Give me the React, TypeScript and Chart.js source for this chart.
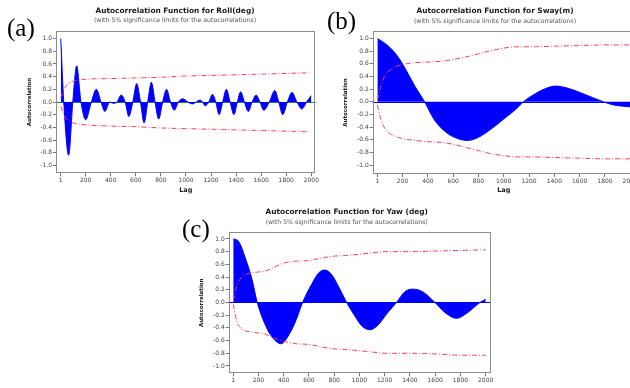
import React, { useEffect, useRef } from "react";
import { Chart, registerables } from "chart.js";

Chart.register(...registerables);

const FONT = '"DejaVu Sans", Verdana, sans-serif';

// ---- tick labels ----
const xTickValues = [1, 200, 400, 600, 800, 1000, 1200, 1400, 1600, 1800, 2000];
const yTickValues = [-1.0, -0.8, -0.6, -0.4, -0.2, 0.0, 0.2, 0.4, 0.6, 0.8, 1.0];

// ---- (a) Roll ----
const rollLags = [
  1, 25, 64, 97, 128, 162, 200, 245,
  285, 322, 353, 392, 420, 450, 483, 515,
  544, 576, 607, 637, 666, 695, 724, 753,
  782, 814, 845, 876, 906, 940, 975, 1015,
  1052, 1082, 1111, 1132, 1153, 1182, 1211, 1238,
  1264, 1293, 1322, 1352, 1383, 1410, 1436, 1466,
  1497, 1528, 1560, 1590, 1621, 1665, 1709, 1740,
  1772, 1809, 1846, 1885, 1925, 1962, 2000,
];
const rollAcf = [
  1.0, 0, -0.84, 0, 0.57, 0, -0.28, 0,
  0.2, 0, -0.15, 0, -0.02, 0, 0.11, 0,
  -0.23, 0, 0.29, 0, -0.33, 0, 0.31, 0,
  -0.27, 0, 0.2, 0, -0.13, 0, 0.05, 0,
  -0.03, 0, 0.03, 0, -0.06, 0, 0.12, 0,
  -0.2, 0, 0.2, 0, -0.2, 0, 0.16, 0,
  -0.15, 0, 0.11, 0, -0.13, 0, 0.18, 0,
  -0.2, 0, 0.15, 0, -0.11, 0, 0.1,
];
const rollLimitLags = [1, 25, 50, 100, 150, 200, 400, 600, 800, 1000, 1200, 1400, 1600, 1800, 1980];
const rollUpper = [0.07, 0.19, 0.27, 0.33, 0.35, 0.36, 0.37, 0.38, 0.39, 0.41, 0.42, 0.43, 0.44, 0.45, 0.46];
const rollLower = [-0.07, -0.19, -0.27, -0.33, -0.35, -0.36, -0.38, -0.39, -0.41, -0.42, -0.43, -0.44, -0.45, -0.46, -0.47];

// ---- (b) Sway ----
const swayLags = [
  1, 50, 100, 150, 200, 250, 300, 375, 450, 550,
  650, 715, 800, 900, 1000, 1100, 1155, 1250, 1330, 1410,
  1500, 1600, 1700, 1790, 1870, 1950, 2000,
];
const swayAcf = [
  1.0, 0.94, 0.86, 0.75, 0.6, 0.42, 0.24, 0, -0.28, -0.49,
  -0.59, -0.61, -0.56, -0.43, -0.27, -0.11, 0, 0.13, 0.21, 0.25,
  0.22, 0.15, 0.07, 0, -0.05, -0.07, -0.08,
];
const swayLimitLags = [1, 30, 60, 100, 150, 200, 300, 400, 500, 600, 700, 800, 900, 1000, 1100, 1200, 1400, 1600, 1800, 2000];
const swayUpper = [0.03, 0.25, 0.42, 0.5, 0.56, 0.59, 0.62, 0.63, 0.64, 0.67, 0.71, 0.76, 0.81, 0.85, 0.87, 0.87, 0.88, 0.89, 0.9, 0.9];
const swayLower = [-0.05, -0.28, -0.42, -0.5, -0.55, -0.58, -0.61, -0.63, -0.64, -0.67, -0.72, -0.77, -0.82, -0.85, -0.87, -0.87, -0.88, -0.89, -0.9, -0.9];

// ---- (c) Yaw ----
const yawLags = [
  1, 40, 100, 150, 191, 250, 300, 380, 450, 500,
  550, 620, 680, 727, 780, 840, 899, 960, 1020, 1083,
  1150, 1220, 1294, 1360, 1426, 1500, 1598, 1680, 1770, 1850,
  1955, 2000,
];
const yawAcf = [
  1.0, 0.97, 0.68, 0.36, 0, -0.33, -0.52, -0.65, -0.48, -0.27,
  0, 0.28, 0.47, 0.51, 0.44, 0.23, 0, -0.2, -0.37, -0.43,
  -0.35, -0.17, 0, 0.17, 0.21, 0.17, 0, -0.16, -0.25, -0.17,
  0, 0.05,
];
const yawLimitLags = [1, 30, 70, 130, 200, 260, 300, 350, 420, 500, 600, 700, 800, 900, 1000, 1100, 1200, 1400, 1600, 1800, 2000];
const yawUpper = [0.03, 0.27, 0.4, 0.46, 0.48, 0.5, 0.53, 0.58, 0.63, 0.65, 0.66, 0.7, 0.73, 0.74, 0.76, 0.78, 0.8, 0.8, 0.81, 0.82, 0.83];
const yawLower = [-0.03, -0.3, -0.42, -0.46, -0.48, -0.5, -0.54, -0.58, -0.62, -0.65, -0.66, -0.7, -0.73, -0.74, -0.76, -0.78, -0.8, -0.8, -0.81, -0.83, -0.83];

const SUBTITLE = "(with 5% significance limits for the autocorrelations)";

type Box = { left: number; top: number; width: number; height: number };
type Area = { left: number; top: number; right: number; bottom: number };
type PanelSpec = {
  canvas: Box;
  area: Area;
  xMin: number;
  xMax: number;
  yMin: number;
  yMax: number;
  title: string;
  titleX: number;
  letter: string;
  letterX: number;
  letterY: number;
  zeroColor: string;
  showLag: boolean;
  lags: number[];
  acf: number[];
  limLags: number[];
  upper: number[];
  lower: number[];
};

const Y_AXIS_W = 32;
const X_AXIS_H = 22;

const panels: PanelSpec[] = [
  {
    canvas: { left: 0, top: 0, width: 320, height: 200 },
    area: { left: 56, top: 30.7, right: 316.7, bottom: 173.3 },
    xMin: -37, xMax: 2033, yMin: -1.125, yMax: 1.125,
    title: "Autocorrelation Function for Roll(deg)", titleX: 175,
    letter: "(a)", letterX: 7, letterY: 36, zeroColor: "#2a7a5a", showLag: true,
    lags: rollLags, acf: rollAcf, limLags: rollLimitLags, upper: rollUpper, lower: rollLower,
  },
  {
    canvas: { left: 320, top: 0, width: 320, height: 200 },
    area: { left: 372.7, top: 31, right: 634.8, bottom: 174 },
    xMin: -36, xMax: 2036, yMin: -1.14, yMax: 1.12,
    title: "Autocorrelation Function for Sway(m)", titleX: 495,
    letter: "(b)", letterX: 327, letterY: 28.8, zeroColor: "#0000ff", showLag: true,
    lags: swayLags, acf: swayAcf, limLags: swayLimitLags, upper: swayUpper, lower: swayLower,
  },
  {
    canvas: { left: 170, top: 200, width: 330, height: 196 },
    area: { left: 228.7, top: 232.3, right: 490.7, bottom: 373.3 },
    xMin: -35, xMax: 2040, yMin: -1.115, yMax: 1.105,
    title: "Autocorrelation Function for Yaw (deg)", titleX: 346.7,
    letter: "(c)", letterX: 182, letterY: 237, zeroColor: "#0000ff", showLag: false,
    lags: yawLags, acf: yawAcf, limLags: yawLimitLags, upper: yawUpper, lower: yawLower,
  },
];

const decorPlugin = {
  id: "decor",
  beforeDatasetsDraw(chart: any, _args: any, opts: any) {
    const { ctx, chartArea: a, scales } = chart;
    const y0 = Math.round(scales.y.getPixelForValue(0)) + 0.5;
    ctx.save();
    ctx.strokeStyle = opts.zeroColor;
    ctx.lineWidth = 1;
    ctx.beginPath();
    ctx.moveTo(a.left, y0);
    ctx.lineTo(a.right, y0);
    ctx.stroke();
    ctx.restore();
  },
  afterDraw(chart: any, _args: any, opts: any) {
    const { ctx, chartArea: a } = chart;
    ctx.save();
    ctx.strokeStyle = "#8c8c8c";
    ctx.lineWidth = 1;
    ctx.strokeRect(
      Math.round(a.left) + 0.5,
      Math.round(a.top) + 0.5,
      Math.round(a.right) - Math.round(a.left) - 1,
      Math.round(a.bottom) - Math.round(a.top) - 1
    );
    ctx.textAlign = "center";
    ctx.textBaseline = "middle";
    ctx.fillStyle = "#1a1a1a";
    ctx.font = `bold 7.4px ${FONT}`;
    ctx.fillText(opts.title, opts.titleX, a.top - 20);
    ctx.fillStyle = "#555555";
    ctx.font = `6.2px ${FONT}`;
    ctx.fillText(opts.subtitle, opts.titleX, a.top - 10);
    ctx.textAlign = "left";
    ctx.textBaseline = "alphabetic";
    ctx.fillStyle = "#000000";
    ctx.font = `25px "Liberation Serif", "Times New Roman", serif`;
    ctx.fillText(opts.letter, opts.letterX, opts.letterY);
    ctx.restore();
  },
};

function Panel({ spec }: { spec: PanelSpec }) {
  const ref = useRef<HTMLCanvasElement | null>(null);
  useEffect(() => {
    if (!ref.current) return;
    const { canvas: c, area } = spec;
    const pad = {
      left: area.left - c.left - Y_AXIS_W,
      right: c.left + c.width - area.right,
      top: area.top - c.top,
      bottom: c.top + c.height - area.bottom - X_AXIS_H,
    };
    const limitStyle = {
      borderColor: "#ff3a5c",
      borderWidth: 1,
      borderDash: [5, 2, 1, 2],
      pointRadius: 0,
      fill: false,
      cubicInterpolationMode: "monotone" as const,
    };
    const chart = new Chart(ref.current, {
      type: "line",
      data: {
        datasets: [
          { ...limitStyle, data: spec.limLags.map((l, i) => ({ x: l, y: spec.upper[i] })) },
          { ...limitStyle, data: spec.limLags.map((l, i) => ({ x: l, y: spec.lower[i] })) },
          {
            data: spec.lags.map((l, i) => ({ x: l, y: spec.acf[i] })),
            borderColor: "#0000ff",
            backgroundColor: "#0000ff",
            borderWidth: 1,
            pointRadius: 0,
            fill: "origin",
            cubicInterpolationMode: "monotone",
          },
        ],
      },
      options: {
        animation: false,
        responsive: false,
        events: [],
        layout: { padding: pad },
        plugins: {
          legend: { display: false },
          tooltip: { enabled: false },
          decor: {
            title: spec.title,
            subtitle: SUBTITLE,
            titleX: spec.titleX - c.left,
            letter: spec.letter,
            letterX: spec.letterX - c.left,
            letterY: spec.letterY - c.top,
            zeroColor: spec.zeroColor,
          },
        } as any,
        scales: {
          x: {
            type: "linear",
            min: spec.xMin,
            max: spec.xMax,
            afterBuildTicks: (s: any) => {
              s.ticks = xTickValues.map((v) => ({ value: v }));
            },
            afterFit: (s: any) => {
              s.height = X_AXIS_H;
            },
            grid: { display: true, drawOnChartArea: false, drawTicks: true, tickLength: 3, color: "#777777" },
            border: { display: false },
            ticks: {
              autoSkip: false,
              maxRotation: 0,
              minRotation: 0,
              padding: 1,
              color: "#444444",
              font: { family: FONT, size: 6 },
              callback: (v: any) => String(v),
            },
            title: {
              display: spec.showLag,
              text: "Lag",
              color: "#1a1a1a",
              font: { family: FONT, size: 6.5, weight: "bold" },
              padding: { top: 0, bottom: 1.5 },
            },
          },
          y: {
            type: "linear",
            min: spec.yMin,
            max: spec.yMax,
            afterBuildTicks: (s: any) => {
              s.ticks = yTickValues.map((v) => ({ value: v }));
            },
            afterFit: (s: any) => {
              s.width = Y_AXIS_W;
            },
            grid: { display: true, drawOnChartArea: false, drawTicks: true, tickLength: 3, color: "#777777" },
            border: { display: false },
            ticks: {
              autoSkip: false,
              padding: 1,
              color: "#444444",
              font: { family: FONT, size: 6 },
              callback: (v: any) => Number(v).toFixed(1),
            },
            title: {
              display: true,
              text: "Autocorrelation",
              color: "#1a1a1a",
              font: { family: FONT, size: 5.5, weight: "bold" },
              padding: { top: 2, bottom: 0 },
            },
          },
        },
      },
      plugins: [decorPlugin],
    });
    return () => chart.destroy();
  }, [spec]);
  const c = spec.canvas;
  return (
    <canvas
      ref={ref}
      width={c.width}
      height={c.height}
      style={{ position: "absolute", left: c.left, top: c.top, width: c.width, height: c.height }}
    />
  );
}

export default function App() {
  return (
    <div
      style={{
        position: "fixed",
        left: 0,
        top: 0,
        width: 630,
        height: 388,
        overflow: "hidden",
        background: "#ffffff",
      }}
    >
      {panels.map((p) => (
        <Panel key={p.letter} spec={p} />
      ))}
    </div>
  );
}
